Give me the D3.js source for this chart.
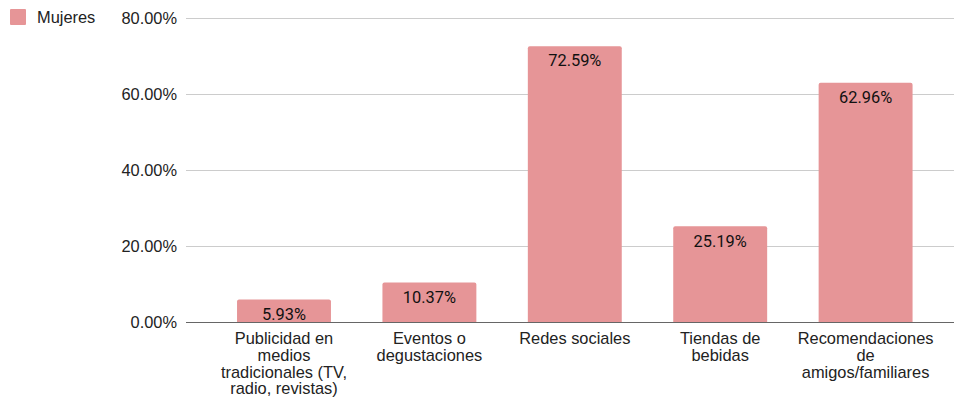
<!DOCTYPE html>
<html>
<head>
<meta charset="utf-8">
<script src="https://cdn.jsdelivr.net/npm/d3@7"></script>
<style>
  html, body { margin: 0; padding: 0; background: #fff; }
  svg { display: block; }
</style>
</head>
<body>
<div id="chart"></div>
<script>
const categories = [
  ['Publicidad en', 'medios', 'tradicionales (TV,', 'radio, revistas)'],
  ['Eventos o', 'degustaciones'],
  ['Redes sociales'],
  ['Tiendas de', 'bebidas'],
  ['Recomendaciones', 'de', 'amigos/familiares']
];
const mujeres = [5.93, 10.37, 72.59, 25.19, 62.96];
const yTicks = [0, 20, 40, 60, 80];
const seriesName = 'Mujeres';

const width = 954;
const height = 398;
const barColor = '#e69597';
const fontSize = '16.4px';

const svg = d3.select('#chart')
  .append('svg')
  .attr('width', width)
  .attr('height', height);

const keys = categories.map((c, i) => i);

const x = d3.scaleBand()
  .domain(keys)
  .range([211.3, 938.3])
  .paddingInner(0.354)
  .paddingOuter(0.177);

const y = d3.scaleLinear()
  .domain([0, 80])
  .range([322, 18]);

// gridlines
svg.append('g')
  .selectAll('line')
  .data(yTicks.filter(d => d > 0))
  .enter()
  .append('line')
  .attr('x1', 186)
  .attr('x2', width)
  .attr('y1', d => Math.round(y(d)) + 0.5)
  .attr('y2', d => Math.round(y(d)) + 0.5)
  .attr('stroke', '#cccccc')
  .attr('stroke-width', 1);

// y tick labels
svg.append('g')
  .selectAll('text')
  .data(yTicks)
  .enter()
  .append('text')
  .attr('x', 177)
  .attr('y', d => y(d))
  .attr('dy', '0.35em')
  .attr('text-anchor', 'end')
  .style('font-family', 'Liberation Sans, Arial, sans-serif')
  .style('font-size', fontSize)
  .attr('fill', '#222')
  .text(d => d3.format('.2f')(d) + '%');

// bars
svg.append('g')
  .selectAll('path')
  .data(mujeres)
  .enter()
  .append('path')
  .attr('d', (d, i) => {
    const x0 = x(i), w = x.bandwidth(), y0 = y(d), y1 = y(0), r = 2;
    return `M${x0},${y1}V${y0 + r}Q${x0},${y0} ${x0 + r},${y0}H${x0 + w - r}Q${x0 + w},${y0} ${x0 + w},${y0 + r}V${y1}Z`;
  })
  .attr('fill', barColor);

// baseline
svg.append('line')
  .attr('x1', 186)
  .attr('x2', width)
  .attr('y1', y(0) + 0.5)
  .attr('y2', y(0) + 0.5)
  .attr('stroke', '#666')
  .attr('stroke-width', 1);

// value labels
svg.append('g')
  .selectAll('text')
  .data(mujeres)
  .enter()
  .append('text')
  .attr('x', (d, i) => x(i) + x.bandwidth() / 2)
  .attr('y', d => y(d) + 14.5)
  .attr('dy', '0.35em')
  .attr('text-anchor', 'middle')
  .style('font-family', 'Roboto, sans-serif')
  .style('font-size', fontSize)
  .attr('fill', '#111')
  .text(d => d3.format('.2f')(d) + '%');

// category labels
const catLabels = svg.append('g')
  .selectAll('text')
  .data(categories)
  .enter()
  .append('text')
  .attr('x', (d, i) => x(i) + x.bandwidth() / 2)
  .attr('y', 344)
  .attr('text-anchor', 'middle')
  .style('font-family', 'Liberation Sans, Arial, sans-serif')
  .style('font-size', fontSize)
  .attr('fill', '#222');

catLabels.selectAll('tspan')
  .data(d => d)
  .enter()
  .append('tspan')
  .attr('x', function () { return this.parentNode.getAttribute('x'); })
  .attr('dy', (d, i) => i === 0 ? 0 : 16.8)
  .text(d => d);

// legend
const legend = svg.append('g');
legend.append('rect')
  .attr('x', 10)
  .attr('y', 9)
  .attr('width', 16)
  .attr('height', 16)
  .attr('rx', 1)
  .attr('fill', barColor);
legend.append('text')
  .attr('x', 37)
  .attr('y', 17)
  .attr('dy', '0.35em')
  .style('font-family', 'Liberation Sans, Arial, sans-serif')
  .style('font-size', fontSize)
  .attr('fill', '#222')
  .text(seriesName);
</script>
</body>
</html>
